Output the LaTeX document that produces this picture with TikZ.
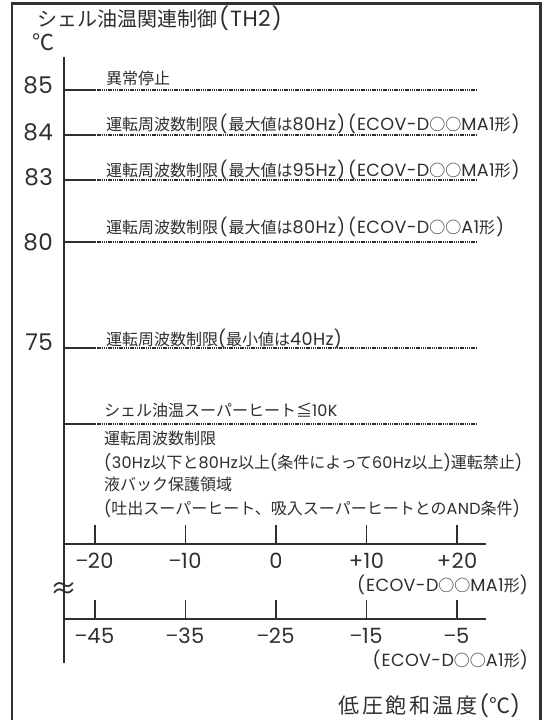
\documentclass[tikz,border=0pt]{standalone}
\usepackage{fontspec}
\newfontfamily\jp{Noto Sans CJK JP}
\newfontfamily\lat{Poppins}[LetterSpace=2]
\newfontfamily\latb{Poppins}[Scale=1.1,LetterSpace=2]
\newcommand{\latx}[1]{{\lat #1}}
\newcommand{\lbx}[1]{{\latb #1}}
\newcommand{\lp}{\hspace{1.5pt}{\latb(}\hspace{1pt}}
\newcommand{\rp}{\hspace{1pt}{\latb)}\hspace{1.5pt}}
\newcommand{\gp}{\hspace{2.5pt}}
\definecolor{ink}{HTML}{2E2E2E}
\definecolor{framec}{HTML}{333333}
\begin{document}
\begin{tikzpicture}[x=1pt,y=-1pt,
  lbl/.style={font=\jp\fontsize{16}{16}\selectfont, inner sep=0pt, text=ink, anchor=base west},
  num/.style={font=\lat\fontsize{23}{23}\selectfont, inner sep=0pt, text=ink, anchor=base east},
  xnum/.style={font=\lat\fontsize{21}{21}\selectfont, inner sep=0pt, text=ink, anchor=base},
  model/.style={font=\jp\fontsize{16}{16}\selectfont, inner sep=0pt, text=ink, anchor=base east},
  axisline/.style={draw=ink, line width=1.3pt},
  tickline/.style={draw=ink, line width=1.1pt},
  dotline/.style={draw=ink, line width=1.1pt, dash pattern=on 1.4pt off 0.8pt},
  framel/.style={draw=framec, line width=2.2pt}]
\useasboundingbox (0,0) rectangle (545,720);
% frame (open at bottom)
\draw[framel] (12,720) -- (12,3.5) -- (540.5,3.5) -- (540.5,720);
% title
\node[font=\jp\fontsize{20}{20}\selectfont, inner sep=0pt, text=ink, anchor=base west, text depth=2pt] (title) at (37,26) {シェル油温関連制御\hspace{2pt}{\latb(}\hspace{1pt}{\latb TH2}\hspace{1pt}{\latb)}};
\node[font=\jp\fontsize{22}{22}\selectfont, inner sep=0pt, text=ink, anchor=base west, text height=14pt, text depth=0pt] (degc) at (32,50) {℃};
% vertical axis
\coordinate (vtop) at (64,57);
\coordinate (vbot) at (64,663);
\draw[axisline] (vtop) -- (vbot);
% levels
\foreach \n/\y in {85/90,84/135,83/180,80/242,75/348,sh/424}{
  \coordinate (a\n) at (64,\y);
  \coordinate (s\n) at (95,\y);
  \coordinate (e\n) at (477,\y);
  \draw[tickline] (a\n) -- (s\n);
  \draw[dotline] (s\n) -- (e\n);
}
\node[num] (n85) at (53,93) {85};
\node[num] (n84) at (53,140) {84};
\node[num] (n83) at (53,185) {83};
\node[num] (n80) at (53,250) {80};
\node[num] (n75) at (53,350) {75};
% level texts
\node[lbl] (l85) at (106,84) {異常停止};
\node[lbl] (l84) at (106,130) {運転周波数制限\lp 最大値は\lbx{80Hz}\rp\lp\lbx{ECOV-D}○○\lbx{MA1}形\rp};
\node[lbl] (l83) at (106,176) {運転周波数制限\lp 最大値は\lbx{95Hz}\rp\lp\lbx{ECOV-D}○○\lbx{MA1}形\rp};
\node[lbl] (l80) at (106,233) {運転周波数制限\lp 最大値は\lbx{80Hz}\rp\lp\lbx{ECOV-D}○○\lbx{A1}形\rp};
\node[lbl] (l75) at (106,345) {運転周波数制限\lbx{(}最小値は\lbx{40Hz)}};
\node[lbl] (lsh) at (104,416) {シェル油温スーパーヒート≦\latx{10K}};
\node[lbl] (r1) at (104,444) {運転周波数制限};
\node[lbl] (r2) at (104,468) {\latx{(30Hz}以下と\latx{80Hz}以上\latx{(}条件によって\latx{60Hz}以上\latx{)}運転禁止\latx{)}};
\node[lbl] (r3) at (104,490) {液バック保護領域};
\node[lbl] (r4) at (104,514) {\latx{(}吐出スーパーヒート、吸入スーパーヒートとの\latx{AND}条件\latx{)}};
% horizontal axes
\coordinate (h1s) at (64,544);
\coordinate (h1e) at (486,544);
\coordinate (h2s) at (64,619);
\coordinate (h2e) at (486,619);
\draw[axisline] (h1s) -- (h1e);
\draw[axisline] (h2s) -- (h2e);
\foreach \i/\x/\u/\l in {1/95/{{\jp −}20}/{{\jp −}45}, 2/185.5/{{\jp −}10}/{{\jp −}35}, 3/276/0/{{\jp −}25}, 4/366.5/+10/{{\jp −}15}, 5/457/+20/{{\jp −}5}}{
  \coordinate (ut\i) at (\x,525);
  \coordinate (ub\i) at (\x,544);
  \coordinate (lt\i) at (\x,600);
  \coordinate (lb\i) at (\x,619);
  \draw[tickline] (ut\i) -- (ub\i);
  \draw[tickline] (lt\i) -- (lb\i);
  \node[xnum] (ux\i) at (\x,568) {\u};
  \node[xnum] (lx\i) at (\x,643) {\l};
}
\node[model] (m1) at (528,591) {\lp\lbx{ECOV-D}○○\lbx{MA1}形\lbx{)}};
\node[model] (m2) at (528,666) {\lp\lbx{ECOV-D}○○\lbx{A1}形\lbx{)}};
\node[font=\jp\fontsize{27}{27}\selectfont, inner sep=0pt, text=ink] (brk) at (64,591) {≈};
\node[font=\jp\fontsize{21}{21}\selectfont, inner sep=0pt, text=ink, anchor=base east] (xlab) at (520,713) {低\gp 圧\gp 飽\gp 和\gp 温\gp 度\gp{\lat(}℃{\lat)}};
\end{tikzpicture}
\end{document}
